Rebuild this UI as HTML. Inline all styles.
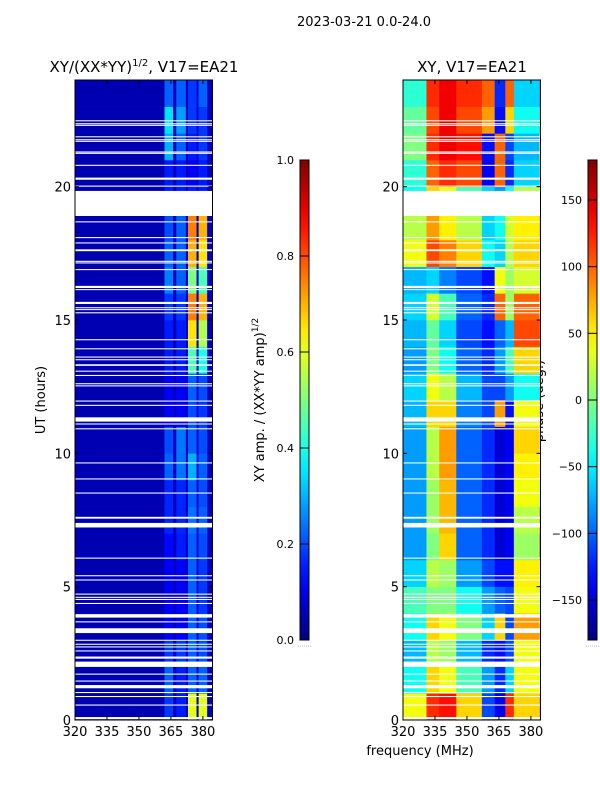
<!DOCTYPE html>
<html><head><meta charset="utf-8">
<style>
html,body{margin:0;padding:0;background:#fff;}
body{width:600px;height:800px;overflow:hidden;font-family:"DejaVu Sans","Liberation Sans",sans-serif;}
svg text{font-family:"DejaVu Sans","Liberation Sans",sans-serif;fill:#000;}
</style></head>
<body>
<svg id="fig" width="600" height="800" viewBox="0 0 600 800" xmlns="http://www.w3.org/2000/svg">
<text x="364" y="26" font-size="13" text-anchor="middle">2023-03-21 0.0-24.0</text>
<text x="144" y="72" font-size="15" text-anchor="middle">XY/(XX*YY)<tspan font-size="10" dy="-6">1/2</tspan><tspan dy="6">, V17=EA21</tspan></text>
<text x="472" y="72" font-size="15" text-anchor="middle">XY, V17=EA21</text>
<text x="45" y="400" font-size="13" text-anchor="middle" transform="rotate(-90 45 400)">UT (hours)</text>
<text x="420" y="755" font-size="13" text-anchor="middle">frequency (MHz)</text>
<text x="264" y="400" font-size="13" text-anchor="middle" transform="rotate(-90 264 400)">XY amp. / (XX*YY amp)<tspan font-size="9" dy="-6">1/2</tspan></text>
<text x="543" y="401" font-size="13" text-anchor="middle" transform="rotate(-90 543 401)">phase (deg.)</text>
<g id="ampPanel"></g>
<g id="phasePanel"></g>
<g id="ampCbar"></g>
<g id="phaseCbar"></g>
</svg>
<script>
// ---- data ----
const hours = [0,1,2,3,4,5,6,7,8,9,10,11,12,13,14,15,16,17,18,19,20,21,22,23];
const ampBandEdges = [320,362,366,367.5,372,373,377,378,382,384.5];
// per hour (0..23): values for each band
const ampValues = [
 [0.05,0.18,0.06,0.15,0.06,0.6,0.08,0.6,0.06],
 [0.05,0.22,0.06,0.15,0.06,0.22,0.08,0.22,0.06],
 [0.05,0.18,0.06,0.18,0.06,0.22,0.08,0.2,0.06],
 [0.05,0.12,0.06,0.12,0.06,0.22,0.08,0.2,0.06],
 [0.05,0.12,0.06,0.12,0.06,0.22,0.08,0.18,0.06],
 [0.05,0.12,0.06,0.12,0.06,0.22,0.08,0.18,0.06],
 [0.05,0.13,0.06,0.15,0.06,0.22,0.08,0.2,0.06],
 [0.05,0.16,0.06,0.16,0.06,0.24,0.08,0.22,0.06],
 [0.05,0.16,0.06,0.16,0.06,0.22,0.08,0.2,0.06],
 [0.05,0.22,0.06,0.24,0.06,0.3,0.08,0.22,0.06],
 [0.05,0.2,0.06,0.24,0.06,0.22,0.08,0.2,0.06],
 [0.05,0.12,0.06,0.12,0.06,0.2,0.08,0.18,0.06],
 [0.05,0.12,0.06,0.12,0.06,0.22,0.08,0.2,0.06],
 [0.05,0.15,0.06,0.15,0.06,0.45,0.08,0.4,0.06],
 [0.05,0.15,0.06,0.15,0.06,0.65,0.08,0.55,0.06],
 [0.05,0.18,0.06,0.18,0.06,0.75,0.08,0.7,0.06],
 [0.05,0.25,0.06,0.22,0.06,0.5,0.08,0.45,0.06],
 [0.05,0.22,0.06,0.22,0.06,0.7,0.08,0.65,0.06],
 [0.05,0.2,0.06,0.22,0.06,0.75,0.08,0.7,0.06],
 [0.05,0.15,0.06,0.15,0.06,0.15,0.08,0.15,0.06],
 [0.05,0.15,0.06,0.15,0.06,0.12,0.08,0.15,0.06],
 [0.05,0.3,0.06,0.22,0.06,0.15,0.08,0.18,0.06],
 [0.05,0.35,0.06,0.28,0.06,0.18,0.08,0.18,0.06],
 [0.05,0.22,0.06,0.22,0.06,0.18,0.08,0.22,0.06]
];
const phaseBandEdges = [320,331,337,345,357,363,368,372,384,384.5];
const phaseValues = [
 [40,120,130,60,-110,-140,120,60,80],
 [-40,60,40,-20,-80,-120,-60,40,40],
 [-70,20,10,-70,-120,-130,-110,40,50],
 [-40,60,40,0,-60,60,-110,80,60],
 [-20,0,0,-40,-80,-100,-110,40,20],
 [-60,20,10,-80,-110,-130,-130,50,40],
 [-80,0,60,-100,-120,-150,-140,10,100],
 [-80,10,70,-100,-120,-150,-140,20,80],
 [-80,10,70,-100,-120,-150,-140,40,30],
 [-80,20,80,-100,-120,-150,-140,50,40],
 [-80,20,80,-100,-120,-150,-140,60,50],
 [-70,60,60,-90,-110,80,-130,40,60],
 [-60,40,20,-70,-110,-110,-80,-40,-60],
 [-80,0,-40,-100,-120,-80,-20,60,20],
 [-70,-10,-60,-110,-130,-100,-70,110,100],
 [-60,30,-20,-100,-120,100,10,100,60],
 [-70,-60,-90,-110,-130,40,10,30,40],
 [40,110,90,60,-40,-60,20,60,50],
 [20,80,50,20,-60,-40,30,50,70],
 [-40,60,40,-20,-60,-80,-40,20,40],
 [-30,100,120,110,-140,100,-120,-60,-40],
 [0,120,140,130,-130,100,-110,-70,20],
 [-10,110,140,110,80,-130,60,-40,-60],
 [-30,120,140,120,100,-120,100,-60,-80]
];
// flagged (blank) time intervals in hours
const gapStart = [0.03,0.54,0.86,1.01,1.19,1.44,1.70,1.99,2.30,2.57,2.72,2.82,2.97,3.26,3.66,3.84,4.35,4.50,4.58,4.70,5.23,5.39,6.05,7.22,7.55,8.49,9.02,9.62,10.90,11.08,11.19,11.78,11.94,12.51,12.59,12.90,13.06,13.28,13.49,13.59,13.90,14.24,15.25,15.37,15.44,15.60,16.12,16.20,16.87,17.12,17.18,17.58,17.87,18.07,18.66,18.90,20.00,20.26,20.78,21.23,21.28,21.68,21.74,21.85,22.28,22.34,22.45];
const gapEnd   = [0.11,0.58,0.90,1.05,1.31,1.48,1.74,2.19,2.38,2.61,2.76,2.86,3.01,3.44,3.70,3.97,4.39,4.54,4.62,4.74,5.27,5.43,6.09,7.39,7.62,8.53,9.06,9.66,10.94,11.12,11.35,11.82,11.98,12.55,12.63,12.94,13.10,13.34,13.53,13.63,13.94,14.28,15.29,15.41,15.48,15.68,16.16,16.28,16.91,17.16,17.22,17.65,17.91,18.11,18.70,19.84,20.04,20.34,20.82,21.27,21.32,21.72,21.78,21.89,22.32,22.38,22.49];
const xTicks = [320,335,350,365,380];
const yTicks = [0,5,10,15,20];
const ampCbarTicks = [0.0,0.2,0.4,0.6,0.8,1.0];
const phaseCbarTicks = [-150,-100,-50,0,50,100,150];

// ---- helpers ----
const NS='http://www.w3.org/2000/svg';
function mk(tag,attrs,parent){const e=document.createElementNS(NS,tag);for(const k in attrs)e.setAttribute(k,attrs[k]);parent.appendChild(e);return e;}
function jet(v){v=Math.max(0,Math.min(1,v));
 const r=Math.max(0,Math.min(1,1.5-Math.abs(4*v-3)));
 const g=Math.max(0,Math.min(1,1.5-Math.abs(4*v-2)));
 const b=Math.max(0,Math.min(1,1.5-Math.abs(4*v-1)));
 return 'rgb('+Math.round(r*255)+','+Math.round(g*255)+','+Math.round(b*255)+')';}
const Y0=720, Y1=80, FMIN=320, FMAX=384.5, HMAX=24;
function yScale(h){return Y0-(h/HMAX)*(Y0-Y1);}

function panel(g,x0,x1,edges,vals,norm,name){
 const xs=f=>x0+(f-FMIN)/(FMAX-FMIN)*(x1-x0);
 for(let i=0;i<hours.length;i++){
  for(let j=0;j<edges.length-1;j++){
   const r=mk('rect',{x:xs(edges[j]),y:yScale(hours[i]+1),width:xs(edges[j+1])-xs(edges[j])+0.3,height:yScale(hours[i])-yScale(hours[i]+1)+0.3,fill:jet(norm(vals[i][j]))},g);
   
   
  }
 }
 for(let k=0;k<gapStart.length;k++){
  const r=mk('rect',{x:x0,y:yScale(gapEnd[k]),width:x1-x0,height:Math.max(1,yScale(gapStart[k])-yScale(gapEnd[k])),fill:'#fff'},g);
  
  
 }
 const fr=mk('rect',{x:x0,y:Y1,width:x1-x0,height:Y0-Y1,fill:'none',stroke:'#000','stroke-width':1},g);
 
 
 xTicks.forEach(t=>{const x=xs(t);
  mk('line',{x1:x,x2:x,y1:Y0,y2:Y0-4,stroke:'#000'},g);
  mk('line',{x1:x,x2:x,y1:Y1,y2:Y1+4,stroke:'#000'},g);
  const tx=mk('text',{x:x,y:Y0+16,'font-size':13,'text-anchor':'middle'},g);tx.textContent=t;
  
  
 });
 yTicks.forEach(t=>{const y=yScale(t);
  mk('line',{x1:x0,x2:x0+4,y1:y,y2:y,stroke:'#000'},g);
  mk('line',{x1:x1,x2:x1-4,y1:y,y2:y,stroke:'#000'},g);
  const tx=mk('text',{x:x0-4,y:y+5,'font-size':13,'text-anchor':'end'},g);tx.textContent=t;
  
  
 });
}
panel(document.getElementById('ampPanel'),75,212.5,ampBandEdges,ampValues,v=>v,'amp');
panel(document.getElementById('phasePanel'),403,540.5,phaseBandEdges,phaseValues,v=>(v+180)/360,'phase');

function cbar(g,x,vmin,vmax,ticks,id,fmt){
 const top=160,bot=640,w=9;
 const grad=mk('linearGradient',{id:id,x1:0,y1:1,x2:0,y2:0},g);
 for(let i=0;i<=20;i++){mk('stop',{offset:i/20,'stop-color':jet(i/20)},grad);}
 const r=mk('rect',{x:x,y:top,width:w,height:bot-top,fill:'url(#'+id+')',stroke:'#000','stroke-width':1},g);
 
 
 ticks.forEach(t=>{const y=bot-(t-vmin)/(vmax-vmin)*(bot-top);
  mk('line',{x1:x,x2:x+w,y1:y,y2:y,stroke:'#000'},g);
  const tx=mk('text',{x:x-6,y:y+4,'font-size':11,'text-anchor':'end'},g);tx.textContent=fmt(t);
  
  
 });
 mk('line',{x1:x-2,x2:x+w+2,y1:bot+6,y2:bot+6,stroke:'#bbb','stroke-dasharray':'1,1'},g);
}
cbar(document.getElementById('ampCbar'),300,0,1,ampCbarTicks,'gA',t=>t.toFixed(1));
cbar(document.getElementById('phaseCbar'),588,-180,180,phaseCbarTicks,'gP',t=>String(t).replace('-','\u2212'));
</script>
</body></html>
